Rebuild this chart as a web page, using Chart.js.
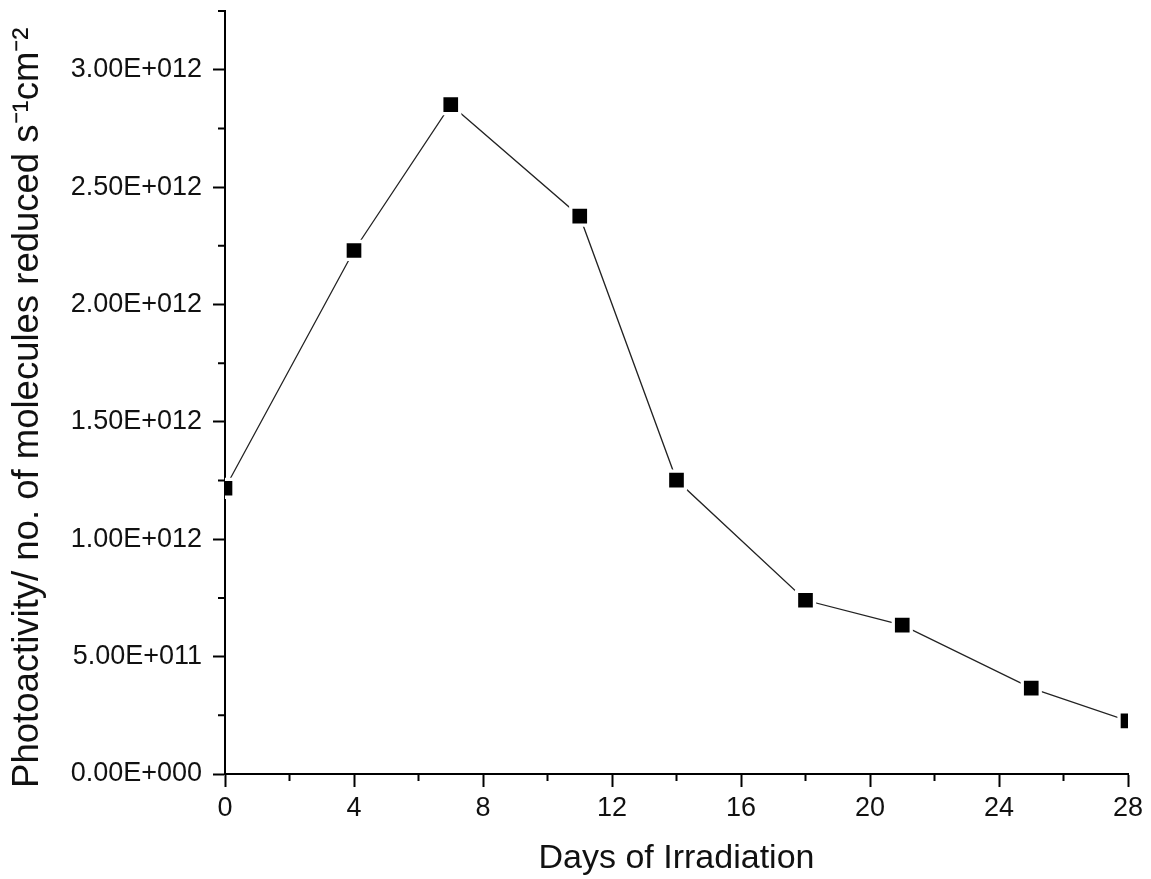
<!DOCTYPE html>
<html>
<head>
<meta charset="utf-8">
<script src="https://cdn.jsdelivr.net/npm/chart.js@4"></script>
<style>
  html, body { margin: 0; padding: 0; background: #fff; }
  #wrap { width: 1151px; height: 879px; }
</style>
</head>
<body>
<div id="wrap"><canvas id="chart" width="1151" height="879"></canvas></div>
<script>
const days = [0, 4, 7, 11, 14, 18, 21, 25, 28];
const photoactivity = [1.217e12, 2.23e12, 2.851e12, 2.376e12, 1.252e12, 0.74e12, 0.634e12, 0.366e12, 0.226e12];

const xTicks = [0, 4, 8, 12, 16, 20, 24, 28];
const xMinorTicks = [2, 6, 10, 14, 18, 22, 26];
const yTicks = [0, 0.5e12, 1.0e12, 1.5e12, 2.0e12, 2.5e12, 3.0e12];
const yMinorTicks = [0.25e12, 0.75e12, 1.25e12, 1.75e12, 2.25e12, 2.75e12, 3.25e12];

const fontFamily = "'Liberation Sans', Arial, sans-serif";

// Origin-style exponent label, e.g. 2.50E+012
function sciLabel(v) {
  if (v === 0) return "0.00E+000";
  const parts = v.toExponential(2).split("e");
  const exp = parseInt(parts[1], 10);
  const sign = exp < 0 ? "-" : "+";
  return parts[0] + "E" + sign + String(Math.abs(exp)).padStart(3, "0");
}

// short outward ticks between the labelled ones
const minorTicks = {
  id: "minorTicks",
  afterDraw(chart) {
    const ctx = chart.ctx;
    const x = chart.scales.x;
    const y = chart.scales.y;
    ctx.save();
    ctx.strokeStyle = "#000";
    ctx.lineWidth = 2;
    ctx.beginPath();
    xMinorTicks.forEach((v) => {
      const px = x.getPixelForValue(v);
      ctx.moveTo(px, x.top);
      ctx.lineTo(px, x.top + 7);
    });
    yMinorTicks.forEach((v) => {
      const py = y.getPixelForValue(v);
      ctx.moveTo(y.right, py);
      ctx.lineTo(y.right - 7, py);
    });
    ctx.stroke();
    ctx.restore();
  },
};

new Chart(document.getElementById("chart"), {
  type: "line",
  data: {
    datasets: [
      {
        data: days.map((d, i) => ({ x: d, y: photoactivity[i] })),
        borderColor: "#222",
        borderWidth: 1.3,
        pointStyle: "rect",
        pointRadius: 12.7,
        pointBackgroundColor: "#000",
        pointBorderColor: "#fff",
        pointBorderWidth: 3.3,
        tension: 0,
        clip: 0,
      },
    ],
  },
  options: {
    responsive: false,
    animation: false,
    events: [],
    layout: { autoPadding: false, padding: { top: 11, right: 23, left: 0, bottom: 0 } },
    plugins: {
      legend: { display: false },
      tooltip: { enabled: false },
    },
    scales: {
      x: {
        type: "linear",
        min: 0,
        max: 28,
        z: 1,
        afterBuildTicks: (scale) => {
          scale.ticks = xTicks.map((v) => ({ value: v }));
        },
        afterFit: (scale) => {
          scale.height = 105;
          scale.paddingLeft = 0;
          scale.paddingRight = 0;
        },
        grid: {
          drawOnChartArea: false,
          drawTicks: true,
          tickLength: 13,
          tickWidth: 2,
          tickColor: "#000",
        },
        border: { display: true, color: "#000", width: 2 },
        ticks: {
          color: "#111",
          padding: 5,
          maxRotation: 0,
          font: { family: fontFamily, size: 27 },
        },
        title: {
          display: true,
          text: "Days of Irradiation",
          color: "#111",
          font: { family: fontFamily, size: 34 },
          padding: { top: 0, bottom: 0 },
        },
      },
      y: {
        type: "linear",
        min: 0,
        max: 3.25e12,
        z: 1,
        afterBuildTicks: (scale) => {
          scale.ticks = yTicks.map((v) => ({ value: v }));
        },
        afterFit: (scale) => {
          scale.width = 225;
          scale.paddingTop = 0;
          scale.paddingBottom = 0;
        },
        grid: {
          drawOnChartArea: false,
          drawTicks: true,
          tickLength: 12,
          tickWidth: 2,
          tickColor: "#000",
        },
        border: { display: true, color: "#000", width: 2 },
        ticks: {
          color: "#111",
          padding: 11,
          font: { family: fontFamily, size: 27 },
          callback: (v) => sciLabel(v),
        },
        title: {
          display: true,
          // trailing no-break spaces nudge the rotated title down a little
          text: "Photoactivity/ no. of molecules reduced s\u207B\u00B9cm\u207B\u00B2\u00A0\u00A0\u00A0",
          color: "#111",
          font: { family: fontFamily, size: 36.5 },
          padding: { top: 6, bottom: 0 },
        },
      },
    },
  },
  plugins: [minorTicks],
});
</script>
</body>
</html>
